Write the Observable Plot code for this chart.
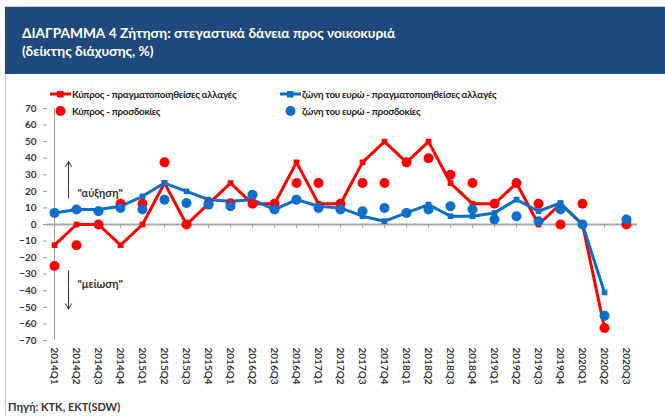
<!DOCTYPE html>
<html><head><meta charset="utf-8">
<script src="https://cdn.jsdelivr.net/npm/d3@7"></script>
<script src="https://cdn.jsdelivr.net/npm/@observablehq/plot@0.6"></script>
<style>
html,body{margin:0;padding:0;background:#fff}
body{width:665px;height:416px;position:relative;overflow:hidden;font-family:Lato,Roboto,"Open Sans",sans-serif}
#frame{position:absolute;left:5px;top:6px;width:660px;height:420px;border-left:1px solid #c8c8c8;border-top:1px solid #c8c8c8}
#banner{position:absolute;left:5px;top:7px;width:660px;height:67px;background:#1f497d;color:#fff;font-weight:700;font-size:13.7px;line-height:18px;box-sizing:border-box;padding:17px 0 0 17px}
#chart{position:absolute;left:0;top:95px}
.lg{position:absolute;font-size:9.8px;font-weight:700;color:#222;white-space:nowrap;line-height:14px;letter-spacing:-0.3px}
.sw{position:absolute}
#src{position:absolute;left:8px;top:400px;font-size:11px;font-weight:700;color:#333}
</style></head><body>
<div id="frame"></div>
<div id="banner">ΔΙΑΓΡΑΜΜΑ 4 Ζήτηση: στεγαστικά δάνεια προς νοικοκυριά<br>(δείκτης διάχυσης, %)</div>
<div id="chart"></div>
<div id="legend"></div>
<div id="src">Πηγή: ΚΤΚ, ΕΚΤ(SDW)</div>
<script>
const quarters = ["2014Q1","2014Q2","2014Q3","2014Q4","2015Q1","2015Q2","2015Q3","2015Q4","2016Q1","2016Q2","2016Q3","2016Q4","2017Q1","2017Q2","2017Q3","2017Q4","2018Q1","2018Q2","2018Q3","2018Q4","2019Q1","2019Q2","2019Q3","2019Q4","2020Q1","2020Q2","2020Q3"];
const cyRealised = [-12.5,0,0,-12.5,0,25,0,12.5,25,12.5,12.5,37.5,12.5,12.5,37.5,50,37.5,50,25,12.5,12.5,25,0,12.5,0,-62.5,null];
const cyExpected = [-25,-12.5,0,12.5,12.5,37.5,0,12.5,12.5,12.5,12.5,25,25,12.5,25,25,37.5,40,30,25,12.5,25,12.5,0,12.5,-62.5,0];
const eaRealised = [7,9,9,11,17,25,20,15,14,15,9,15,11,10,5,2,7,12,5,5,7,15,8,13,0,-41,null];
const eaExpected = [7,9,8,10,9,15,13,12,11,18,9,15,10,9,8,10,7,9,11,9,3,5,2,9,0,-55,3];
const yTicks = [-70,-60,-50,-40,-30,-20,-10,0,10,20,30,40,50,60,70];
const seriesNames = ["Κύπρος - πραγματοποιηθείσες αλλαγές","ζώνη του ευρώ - πραγματοποιηθείσες αλλαγές","Κύπρος - προσδοκίες","ζώνη του ευρώ - προσδοκίες"];
const annotations = ["\"αύξηση\"", "\"μείωση\""];

const RED = "#ff0000", BLUE = "#0a6fc8";
const rows = quarters.map((q, i) => ({q, cyR: cyRealised[i], cyE: cyExpected[i], eaR: eaRealised[i], eaE: eaExpected[i]}));
const font = "Lato, Roboto, 'Open Sans', sans-serif";

const chart = Plot.plot({
  width: 665, height: 300,
  marginLeft: 47, marginRight: 33, marginTop: 13, marginBottom: 55,
  style: {fontFamily: font, fontSize: "10px", color: "#222", background: "transparent", overflow: "visible"},
  x: {type: "point", domain: quarters, padding: 0, label: null},
  y: {domain: [-70, 70], label: null},
  marks: [
    Plot.ruleX([quarters[0]], {stroke: "#9a9a9a", strokeWidth: 1}),
    Plot.ruleY([0], {stroke: "#a8a8a8", strokeWidth: 2, insetRight: -5}),
    Plot.ruleX(quarters, {x: d => d, y1: 0, y2: 0, insetBottom: -4, stroke: "#a8a8a8"}),
    Plot.axisY({ticks: yTicks, tickSize: 4, tickPadding: 7, stroke: "#9a9a9a", fontWeight: "bold", fill: "#333", label: null}),
    Plot.axisX({tickRotate: 90, tickSize: 0, tickPadding: 7, fontWeight: "600", fill: "#222", label: null}),
    Plot.text([annotations[0]], {x: () => quarters[1], y: () => 18.5, text: d => d, textAnchor: "start", dx: 1, fontSize: 11, fontWeight: "bold", fill: "#333"}),
    Plot.text([annotations[1]], {x: () => quarters[1], y: () => -36, text: d => d, textAnchor: "start", dx: 1, fontSize: 11, fontWeight: "bold", fill: "#333"}),
    Plot.arrow([0], {x1: () => quarters[0], x2: () => quarters[0], y1: () => 16, y2: () => 38, dx: 14, stroke: "#333", strokeWidth: 1, headLength: 9, bend: 0}),
    Plot.arrow([0], {x1: () => quarters[0], x2: () => quarters[0], y1: () => -28, y2: () => -51, dx: 14, stroke: "#333", strokeWidth: 1, headLength: 9, bend: 0}),
    Plot.line(rows, {x: "q", y: "cyR", stroke: RED, strokeWidth: 3}),
    Plot.dot(rows, {x: "q", y: "cyR", symbol: "square", r: 3.2, fill: RED}),
    Plot.line(rows, {x: "q", y: "eaR", stroke: BLUE, strokeWidth: 3}),
    Plot.dot(rows, {x: "q", y: "eaR", symbol: "square", r: 3.2, fill: BLUE}),
    Plot.dot(rows, {x: "q", y: "cyE", r: 5, fill: RED}),
    Plot.dot(rows, {x: "q", y: "eaE", r: 5, fill: BLUE})
  ]
});
document.getElementById("chart").appendChild(chart);

// legend
const lg = document.getElementById("legend");
const items = [
  {name: seriesNames[0], color: RED, kind: "line", x: 50, y: 94},
  {name: seriesNames[1], color: BLUE, kind: "line", x: 280, y: 94},
  {name: seriesNames[2], color: RED, kind: "dot", x: 50, y: 111},
  {name: seriesNames[3], color: BLUE, kind: "dot", x: 280, y: 111}
];
for (const it of items) {
  const s = document.createElementNS("http://www.w3.org/2000/svg", "svg");
  s.setAttribute("width", 22); s.setAttribute("height", 14);
  s.setAttribute("class", "sw");
  s.style.left = it.x + "px"; s.style.top = (it.y - 7) + "px";
  if (it.kind === "line") {
    s.innerHTML = `<line x1="0" x2="21" y1="7" y2="7" stroke="${it.color}" stroke-width="3"/><rect x="7" y="4" width="6.5" height="6.5" fill="${it.color}"/>`;
  } else {
    s.innerHTML = `<circle cx="10.5" cy="7" r="5" fill="${it.color}"/>`;
  }
  lg.appendChild(s);
  const t = document.createElement("div");
  t.className = "lg"; t.textContent = it.name;
  t.style.left = (it.x + 22) + "px"; t.style.top = (it.y - 7) + "px";
  lg.appendChild(t);
}
</script>
</body></html>
